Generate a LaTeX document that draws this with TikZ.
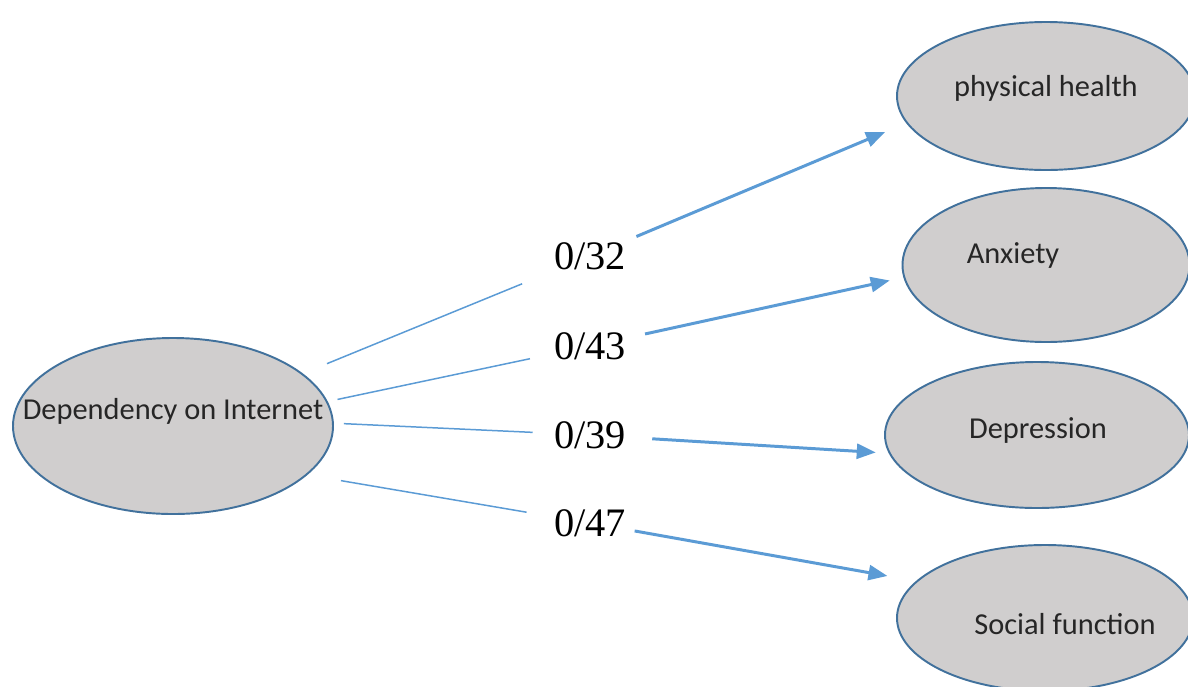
\documentclass[tikz,border=0pt]{standalone}
\usepackage{fontspec}
\setmainfont{Carlito}
\newfontfamily\numfont{Liberation Serif}
\usetikzlibrary{shapes.geometric,arrows.meta}
\definecolor{ovalfill}{HTML}{D0CECE}
\definecolor{ovaledge}{HTML}{41719C}
\definecolor{linkblue}{HTML}{5B9BD5}

\begin{document}
\begin{tikzpicture}[x=0.2mm,y=-0.2mm,
  oval/.style={ellipse,draw=ovaledge,line width=1.1pt,fill=ovalfill,inner sep=0pt},
  txt/.style={text=black!85,font=\fontsize{17.3}{20}\selectfont},
  num/.style={circle,minimum size=20mm,inner sep=0pt,font=\numfont\fontsize{23}{27}\selectfont},
  weak/.style={linkblue,line width=0.85pt},
  link/.style={linkblue,line width=1.7pt,-{Triangle[length=3.8mm,width=3mm]}}]
\useasboundingbox (0,0) rectangle (1188,686);

\node[oval,minimum width=64mm,minimum height=35.2mm] (dep) at (173,426) {};
\node[oval,minimum width=59.6mm,minimum height=29.6mm] (phys) at (1046,96) {};
\node[oval,minimum width=57.4mm,minimum height=30.8mm] (anx) at (1046,265) {};
\node[oval,minimum width=60.8mm,minimum height=29.2mm] (depr) at (1037,435) {};
\node[oval,minimum width=59.2mm,minimum height=29.2mm] (soc) at (1045,618) {};

\node[txt] (deptxt) at (173,411) {Dependency on Internet};
\node[txt] (phystxt) at (1046,88) {physical health};
\node[txt] (anxtxt) at (1013,255) {Anxiety};
\node[txt] (deprtxt) at (1038,430) {Depression};
\node[txt] (soctxt) at (1065,624) {Social function};

\node[num] (n32) at (590,256) {0/32};
\node[num] (n43) at (590,346) {0/43};
\node[num] (n39) at (590,435) {0/39};
\node[num] (n47) at (590,523) {0/47};

\draw[weak,shorten <=5.2mm,shorten >=4.6mm] (dep.22) -- (n32);
\draw[weak,shorten <=2mm,shorten >=2.2mm] (dep.9) -- (n43);
\draw[weak,shorten <=2mm,shorten >=1.4mm] (dep.1) -- (n39);
\draw[weak,shorten <=6.8mm,shorten >=2.8mm] (dep.340) -- (n47);

\draw[link,shorten >=4.6mm] (n32) -- (phys.191);
\draw[link,shorten <=1.2mm,shorten >=2.8mm] (n43) -- (anx.185.5);
\draw[link,shorten <=2.4mm,shorten >=2.6mm] (n39) -- (depr.187);
\draw[link,shorten <=-1mm,shorten >=5.8mm] (n47) -- (soc.164.4);
\end{tikzpicture}
\end{document}
